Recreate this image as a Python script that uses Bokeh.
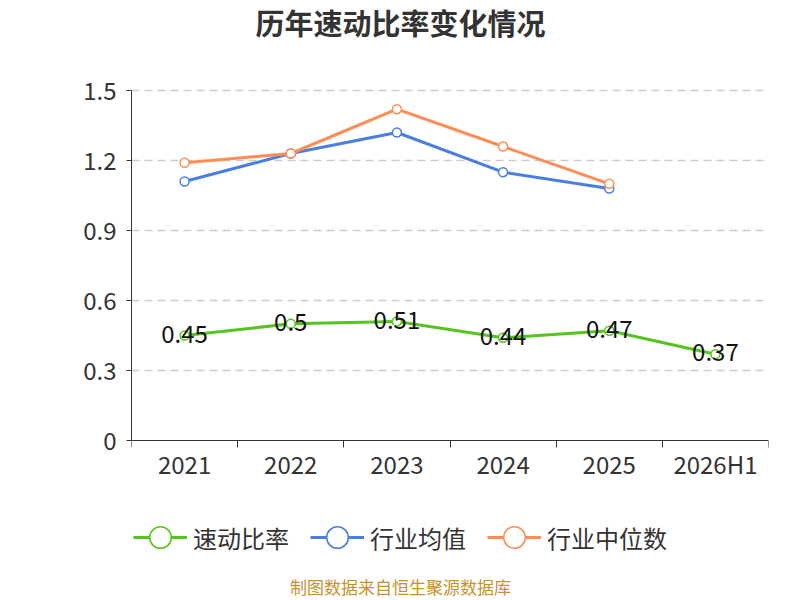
from bokeh.plotting import figure
from bokeh.models import (ColumnDataSource, FixedTicker, Legend, LegendItem,
                          Label, Range1d)
from bokeh.core.properties import value
from bokeh.embed import file_html
from bokeh.resources import INLINE

FONT = "Noto Sans CJK SC"

# data
categories = ["2021", "2022", "2023", "2024", "2025", "2026H1"]
quick_ratio = [0.45, 0.50, 0.51, 0.44, 0.47, 0.37]
industry_mean = [1.11, 1.23, 1.32, 1.15, 1.08]
industry_median = [1.19, 1.23, 1.42, 1.26, 1.10]
y_ticks = [0, 0.3, 0.6, 0.9, 1.2, 1.5]

x = list(range(len(categories)))

# the frame spans the full canvas height; 0..1.5 sits at 440..90 px
px_per_unit = 350 / 1.5
p = figure(width=800, height=600, output_backend="svg", title=None,
           toolbar_location=None, x_range=Range1d(-0.5, len(categories) - 0.5),
           y_range=Range1d(-160 / px_per_unit, 1.5 + 90 / px_per_unit),
           min_border_left=131, min_border_right=32,
           min_border_top=0, min_border_bottom=0)
p.outline_line_color = None
p.background_fill_color = "white"

# x axis at y=0: labels at centres, ticks at category boundaries
p.xaxis.fixed_location = 0
p.xaxis.ticker = FixedTicker(ticks=x, minor_ticks=[i - 0.5 for i in range(len(categories) + 1)])
p.xaxis.major_label_overrides = {i: c for i, c in enumerate(categories)}
p.xaxis.major_tick_out = 0
p.xaxis.major_tick_in = 0
p.xaxis.minor_tick_out = 7
p.xaxis.minor_tick_in = 0
p.xaxis.minor_tick_line_color = "#333333"
p.xaxis.axis_line_color = "#333333"
p.xaxis.major_label_text_font = FONT
p.xaxis.major_label_text_font_size = "24px"
p.xaxis.major_label_text_color = "#333333"
p.xaxis.major_label_standoff = -2

p.yaxis.ticker = FixedTicker(ticks=y_ticks)
p.yaxis.bounds = (0, 1.5)
p.yaxis.major_label_overrides = {0: "0", 0.3: "0.3", 0.6: "0.6", 0.9: "0.9", 1.2: "1.2", 1.5: "1.5"}
p.yaxis.minor_tick_line_color = None
p.yaxis.major_tick_out = 5
p.yaxis.major_tick_in = 0
p.yaxis.major_tick_line_color = "#333333"
p.yaxis.axis_line_color = "#333333"
p.yaxis.major_label_text_font = FONT
p.yaxis.major_label_text_font_size = "24px"
p.yaxis.major_label_text_color = "#333333"
p.yaxis.major_label_standoff = 10

p.xgrid.grid_line_color = None
p.ygrid.ticker = FixedTicker(ticks=y_ticks[1:])
p.ygrid.grid_line_color = "#cccccc"
p.ygrid.grid_line_dash = "8 5"
p.ygrid.grid_line_width = 1.5

series = [
    ("速动比率", quick_ratio, "#55c41e"),
    ("行业均值", industry_mean, "#4a7fe0"),
    ("行业中位数", industry_median, "#ff8c55"),
]

items = []
for name, vals, colour in series:
    src = ColumnDataSource(dict(x=x[:len(vals)], y=vals))
    ln = p.line("x", "y", source=src, line_color=colour, line_width=3)
    pt = p.scatter("x", "y", source=src, size=9, marker="circle",
                   line_color=colour, line_width=1.5, fill_color="white")
    items.append(LegendItem(label=name, renderers=[ln, pt]))

labels = ColumnDataSource(dict(x=x, y=quick_ratio,
                               t=[("%.2f" % v).rstrip("0").rstrip(".") for v in quick_ratio]))
p.text("x", "y", text="t", source=labels, text_align="center",
       text_baseline="middle", y_offset=-2, text_font=value(FONT),
       text_font_size="24px", text_color="#111111")

legend = Legend(items=items, orientation="horizontal", location=(2, 35),
                label_text_font=FONT, label_text_font_size="24px",
                label_text_color="#333333", glyph_width=54, glyph_height=56,
                spacing=21, label_standoff=6, border_line_color=None,
                background_fill_alpha=0, margin=0, padding=0)
p.add_layout(legend, "center")

title = Label(x=269, y=579, x_units="screen", y_units="screen",
              text="历年速动比率变化情况", text_align="center",
              text_baseline="middle", text_font=FONT, text_font_size="29px",
              text_font_style="bold", text_color="#333333")
p.add_layout(title)

footer = Label(x=269, y=14, x_units="screen", y_units="screen",
               text="制图数据来自恒生聚源数据库", text_align="center",
               text_baseline="middle", text_font=FONT, text_font_size="17px",
               text_color="#c8922a")
p.add_layout(footer)

open("out.html", "w").write(file_html(p, INLINE))
